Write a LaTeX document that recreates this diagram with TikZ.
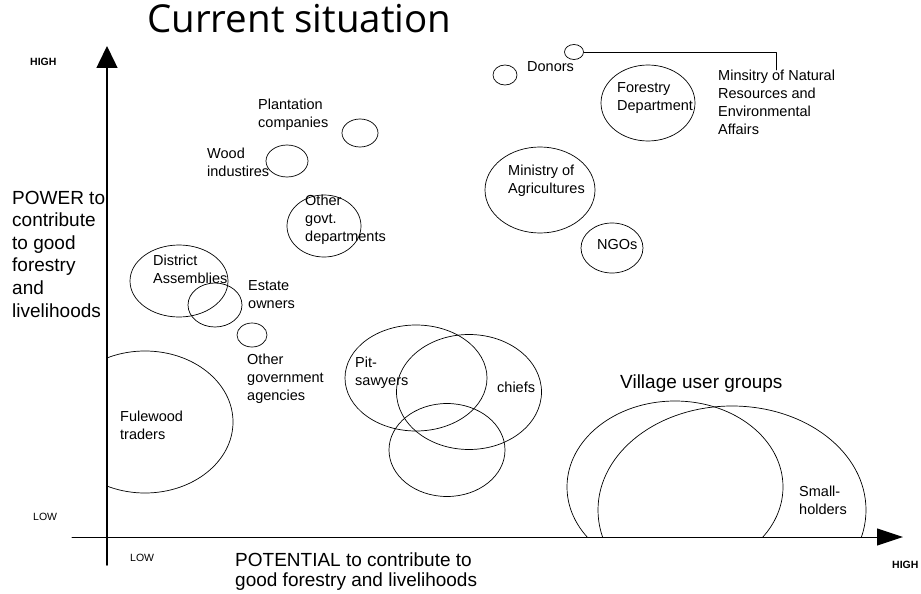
\documentclass[tikz,border=0pt]{standalone}
\usepackage{fontspec}
\setmainfont{Liberation Sans}
\newfontfamily\titlefont{Open Sans}
\usetikzlibrary{arrows.meta,shapes.geometric}
\tikzset{
	actor/.style={draw, ellipse, line width=0.7pt, inner sep=0pt},
	lbl/.style={font=\fontsize{14.5}{18}\selectfont, align=left, inner sep=0pt, anchor=west},
	biglbl/.style={font=\fontsize{19}{22.6}\selectfont, align=left, inner sep=0pt, anchor=west},
	level/.style={font=\fontsize{10.5}{12}\selectfont, inner sep=0pt, anchor=west},
}
\begin{document}
\begin{tikzpicture}[x=1pt, y=-1pt, line cap=round, line join=round]
			\useasboundingbox (0,0) rectangle (921,594);
			\path (107,565) coordinate (Ybot)
			(107,46) coordinate (Ytop)
			(72,537) coordinate (Xleft)
			(903,537) coordinate (Xright)
			;
			\draw[line width=1.5pt, -{Triangle[length=22pt,width=21pt]}] (Ybot)--(Ytop);
			\draw[line width=1pt, -{Triangle[length=26pt,width=17pt]}] (Xleft)--(Xright);
			\begin{scope}
				\clip (107.8,0) rectangle (921,537);
				\node[actor, minimum width=24, minimum height=20] (donors) at (505,75) {};
				\node[actor, minimum width=19, minimum height=15] (mnr) at (574,52) {};
				\node[actor, minimum width=94, minimum height=76] (forestry) at (648,103) {};
				\node[actor, minimum width=110, minimum height=86] (agric) at (540,190) {};
				\node[actor, minimum width=62, minimum height=50] (ngo) at (612,248) {};
				\node[actor, minimum width=36, minimum height=28] (plant) at (360,133) {};
				\node[actor, minimum width=42, minimum height=32] (wood) at (287,161) {};
				\node[actor, minimum width=74, minimum height=62] (othergovt) at (324,226) {};
				\node[actor, minimum width=98, minimum height=72] (district) at (179,281) {};
				\node[actor, minimum width=54, minimum height=44] (estate) at (215,305) {};
				\node[actor, minimum width=30, minimum height=24] (agencies) at (252,335) {};
				\node[actor, minimum width=176, minimum height=142] (fuel) at (145,422) {};
				\node[actor, minimum width=142, minimum height=106] (pit) at (416,378) {};
				\node[actor, minimum width=145, minimum height=115] (chiefs) at (469,392) {};
				\node[actor, minimum width=116, minimum height=93] (lower) at (447,450) {};
				\node[actor, minimum width=216, minimum height=172] (village) at (675,487) {};
				\node[actor, minimum width=268, minimum height=208] (small) at (732,510) {};
			\end{scope}
			\node[anchor=base west, inner sep=0pt, font=\titlefont\fontsize{38.5}{40}\selectfont] (title) at (147,33) {Current situation};
			\node[level, font=\bfseries\fontsize{10.5}{12}\selectfont] (yhigh) at (30,62) {HIGH};
			\node[level] (ylow) at (33,517) {LOW};
			\node[level] (xlow) at (130,558) {LOW};
			\node[level, font=\bfseries\fontsize{10.5}{12}\selectfont] (xhigh) at (892,565) {HIGH};
			\node[biglbl] (power) at (12,254) {POWER to\\contribute\\to good\\forestry\\and\\livelihoods};
			\node[biglbl, font=\fontsize{19}{20}\selectfont] (potential) at (235,572) {POTENTIAL to contribute to\\good forestry and livelihoods};
			\node[lbl] (donorslbl) at (527,67) {Donors};
			\node[lbl, anchor=north west] (mnrlbl) at (718,70) {Minsitry of Natural\\Resources and\\Environmental\\Affairs};
			\node[lbl] (forestrylbl) at (617,98) {Forestry\\Department};
			\node[lbl] (agriclbl) at (508,181) {Ministry of\\Agricultures};
			\node[lbl] (ngolbl) at (597,245) {NGOs};
			\node[lbl] (plantlbl) at (258,115) {Plantation\\companies};
			\node[lbl] (woodlbl) at (207,162) {Wood\\industires};
			\node[lbl] (othergovtlbl) at (305,220) {Other\\govt.\\departments};
			\node[lbl] (districtlbl) at (153,269) {District\\Assemblies};
			\node[lbl] (estatelbl) at (248,295) {Estate\\owners};
			\node[lbl] (agencieslbl) at (247,379) {Other\\government\\agencies};
			\node[lbl] (fuellbl) at (120,425) {Fulewood\\traders};
			\node[lbl] (pitlbl) at (355,373) {Pit-\\sawyers};
			\node[lbl] (chiefslbl) at (497,387) {chiefs};
			\node[biglbl] (villagelbl) at (620,384) {Village user groups};
			\node[lbl] (smalllbl) at (799,500) {Small-\\holders};
			\draw[line width=0.7pt] (mnr.east) -| (mnrlbl.north);
	\end{tikzpicture}
\end{document}
